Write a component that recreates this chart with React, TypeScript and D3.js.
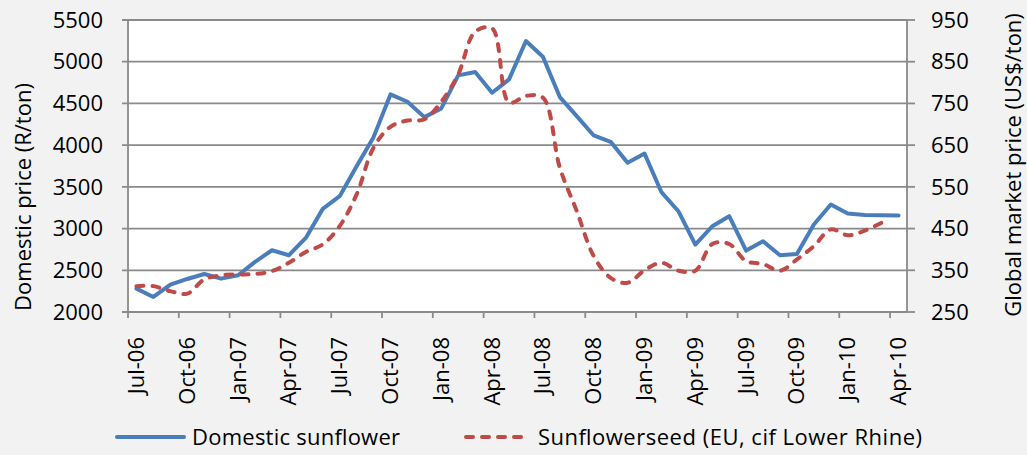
import React from "react";
import * as d3 from "d3";

const months = [
  "Jul-06","Aug-06","Sep-06","Oct-06","Nov-06","Dec-06",
  "Jan-07","Feb-07","Mar-07","Apr-07","May-07","Jun-07",
  "Jul-07","Aug-07","Sep-07","Oct-07","Nov-07","Dec-07",
  "Jan-08","Feb-08","Mar-08","Apr-08","May-08","Jun-08",
  "Jul-08","Aug-08","Sep-08","Oct-08","Nov-08","Dec-08",
  "Jan-09","Feb-09","Mar-09","Apr-09","May-09","Jun-09",
  "Jul-09","Aug-09","Sep-09","Oct-09","Nov-09","Dec-09",
  "Jan-10","Feb-10","Mar-10","Apr-10",
];

const domesticSunflower = [
  2280, 2180, 2328, 2396, 2456, 2400, 2440, 2600, 2740, 2680, 2888, 3236,
  3388, 3748, 4096, 4608, 4520, 4336, 4440, 4836, 4876, 4628, 4788, 5248,
  5060, 4576, 4348, 4116, 4040, 3788, 3900, 3436, 3208, 2808, 3028, 3148,
  2736, 2848, 2680, 2696, 3048, 3288, 3180, 3164, 3160, 3156,
];

const sunflowerseedEU = [
  312, 312, 300, 294, 328, 338, 340, 341, 348, 368, 394, 412,
  456, 532, 644, 694, 709, 712, 754, 820, 922, 930, 752, 768,
  764, 596, 492, 384, 332, 320, 350, 368, 349, 349, 413, 413,
  372, 365, 349, 376, 408, 448, 434, 445, 464,
];

const leftTicks = [2000, 2500, 3000, 3500, 4000, 4500, 5000, 5500];
const rightTicks = [250, 350, 450, 550, 650, 750, 850, 950];
const seriesNames = ["Domestic sunflower", "Sunflowerseed (EU, cif Lower Rhine)"];
const leftTitle = "Domestic price (R/ton)";
const rightTitle = "Global market price (US$/ton)";

const W = 1027, H = 455;
const L = 128, R = 907, T = 20, B = 312;
const FONT = "'Open Sans', 'Noto Sans', sans-serif";
const GRID = "#8a8a8a";
const BLUE = "#4a7ebb";
const RED = "#be4b48";
const FS = 22;

export default function App() {
  const idx = months.map((_, i) => i);
  const x = d3.scaleBand<number>().domain(idx).range([L, R]).padding(0);
  const cx = (i: number) => (x(i) as number) + x.bandwidth() / 2;
  const yL = d3.scaleLinear().domain([2000, 5500]).range([B, T]);
  const yR = d3.scaleLinear().domain([250, 950]).range([B, T]);

  const blueLine = d3.line<number>().x((_, i) => cx(i)).y((d) => yL(d));
  const redLine = d3
    .line<number>()
    .x((_, i) => cx(i))
    .y((d) => yR(d))
    .curve(d3.curveCatmullRom.alpha(0.5));

  const tickIdx = idx.filter((i) => i % 3 === 0);

  return (
    <svg
      width={W}
      height={H}
      style={{ position: "absolute", left: 0, top: 0, background: "#f2f2f2" }}
      fontFamily={FONT}
    >
      <rect x={L} y={T} width={R - L} height={B - T} fill="#ffffff" />
      {leftTicks.map((v) => (
        <line key={"g" + v} x1={L - 6} x2={R} y1={yL(v)} y2={yL(v)} stroke={GRID} strokeWidth={1.8} />
      ))}
      {rightTicks.map((v) => (
        <line key={"rt" + v} x1={R} x2={R + 8} y1={yR(v)} y2={yR(v)} stroke={GRID} strokeWidth={1.8} />
      ))}
      <line x1={L} x2={L} y1={T} y2={B} stroke={GRID} strokeWidth={1.8} />
      <line x1={R} x2={R} y1={T} y2={B} stroke={GRID} strokeWidth={1.8} />
      <line x1={L} x2={R} y1={B} y2={B} stroke={GRID} strokeWidth={1.8} />
      {tickIdx.map((i) => (
        <line key={"xt" + i} x1={x(i) as number} x2={x(i) as number} y1={B} y2={B + 6} stroke={GRID} strokeWidth={1.8} />
      ))}
      {leftTicks.map((v) => (
        <text key={"ll" + v} x={103} y={yL(v)} dy="0.35em" textAnchor="end" fontSize={FS} fill="#000">
          {v}
        </text>
      ))}
      {rightTicks.map((v) => (
        <text key={"rl" + v} x={931} y={yR(v)} dy="0.35em" textAnchor="start" fontSize={FS} fill="#000">
          {v}
        </text>
      ))}
      {tickIdx.map((i) => (
        <text
          key={"xl" + i}
          transform={`translate(${cx(i) + 7.5},${337}) rotate(-90)`}
          textAnchor="end"
          fontSize={FS}
          fill="#000"
        >
          {months[i]}
        </text>
      ))}
      <text transform={`translate(31,${197}) rotate(-90)`} textAnchor="middle" fontSize={FS} fill="#000">
        {leftTitle}
      </text>
      <text transform={`translate(1021,${165}) rotate(-90)`} textAnchor="middle" fontSize={FS} fill="#000">
        {rightTitle}
      </text>
      <path d={blueLine(domesticSunflower) || ""} fill="none" stroke={BLUE} strokeWidth={4} strokeLinejoin="round" strokeLinecap="round" />
      <path
        d={redLine(sunflowerseedEU) || ""}
        fill="none"
        stroke={RED}
        strokeWidth={4}
        strokeDasharray="7,9"
        strokeLinecap="round"
      />
      <line x1={117} x2={184} y1={437} y2={437} stroke={BLUE} strokeWidth={4} strokeLinecap="round" />
      <text x={192} y={437} dy="0.35em" fontSize={FS} fill="#000" textLength={208} lengthAdjust="spacing">
        {seriesNames[0]}
      </text>
      <line x1={466} x2={530} y1={437} y2={437} stroke={RED} strokeWidth={4} strokeDasharray="7,9" strokeLinecap="round" />
      <text x={538} y={437} dy="0.35em" fontSize={FS} fill="#000" textLength={384} lengthAdjust="spacing">
        {seriesNames[1]}
      </text>
    </svg>
  );
}
